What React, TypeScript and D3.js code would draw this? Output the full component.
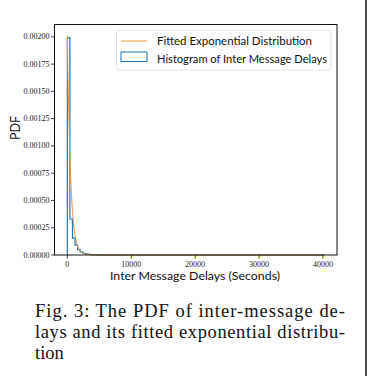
import React from 'react';
import * as d3 from 'd3';

// histogram (density) of inter message delays, bins of 402 s from 0 to 40200
const binWidth = 402;
const histDensity = [0.00199, 0.00033, 0.000155, 0.00009, 0.00005, 0.000028, 0.000016, 0.00001, 0.000006, 0.000004, 0.000003, 0.000002, 0.0000015, 0.000001];
const histEnd = 40200;

// fitted exponential curve
const fitX = [0, 200, 400, 600, 800, 1000, 1200, 1500, 1800, 2200, 2600, 3000, 4000, 5000, 40200];
const fitY = [0.00201, 0.001345, 0.0009, 0.000602, 0.000403, 0.000269, 0.00018, 0.0000986, 0.0000539, 0.0000241, 0.0000108, 0.0000048, 0.0000006, 0.0000001, 0];

const xTicks = [0, 10000, 20000, 30000, 40000];
const yTicks = [0, 0.00025, 0.0005, 0.00075, 0.001, 0.00125, 0.0015, 0.00175, 0.002];

const legendLabels = ['Fitted Exponential Distribution', 'Histogram of Inter Message Delays'];
const captionLines = ['Fig. 3: The PDF of inter-message de-', 'lays and its fitted exponential distribu-', 'tion'];

const W = 368, H = 376;
const left = 54.5, right = 337, top = 24.5, bottom = 255;
const blue = '#1f77b4';
const orange = '#ec9b3e';

export default function App() {
  const x = d3.scaleLinear().domain([-2010, 42210]).range([left, right]);
  const y = d3.scaleLinear().domain([0, 0.002113]).range([bottom, top]);

  // step outline like matplotlib histtype='step'
  const stepPts: [number, number][] = [[0, 0]];
  histDensity.forEach((d, i) => {
    stepPts.push([i * binWidth, d]);
    stepPts.push([(i + 1) * binWidth, d]);
  });
  stepPts.push([histDensity.length * binWidth, 0]);
  stepPts.push([histEnd, 0]);
  const stepLine = d3.line<[number, number]>().x(d => x(d[0])).y(d => y(d[1]));

  const fitLine = d3.line<number>().x((d, i) => x(fitX[i])).y(d => y(d));

  const serif = 'Liberation Serif, Times New Roman, serif';
  const sans = 'Lato, Liberation Sans, sans-serif';

  return (
    <svg width={W} height={H} style={{ position: 'absolute', left: 0, top: 0, background: '#fff' }}>
      <rect x={0} y={0} width={W} height={H} fill="#fff" />
      <path d={stepLine(stepPts) || ''} fill="none" stroke={blue} strokeWidth={1.2} />
      <path d={fitLine(fitY) || ''} fill="none" stroke={orange} strokeWidth={1} />

      {/* frame */}
      <rect x={left} y={top} width={right - left} height={bottom - top} fill="none" stroke="#111" strokeWidth={1} />

      {yTicks.map(t => (
        <g key={t} transform={`translate(${left},${y(t)})`}>
          <line x1={-3.5} x2={0} stroke="#111" strokeWidth={0.8} />
          <text x={-5} dy="0.32em" textAnchor="end" fontFamily={serif} fontSize={8} fill="#222">{t.toFixed(5)}</text>
        </g>
      ))}
      {xTicks.map(t => (
        <g key={t} transform={`translate(${x(t)},${bottom})`}>
          <line y1={0} y2={3.5} stroke="#111" strokeWidth={0.8} />
          <text y={11.5} textAnchor="middle" fontFamily={serif} fontSize={8} fill="#222">{t}</text>
        </g>
      ))}

      <text x={195} y={280} textAnchor="middle" fontFamily={sans} fontSize={12} textLength={170} lengthAdjust="spacingAndGlyphs" fill="#111">Inter Message Delays (Seconds)</text>
      <text transform="translate(20,128) rotate(-90)" textAnchor="middle" fontFamily={sans} fontSize={12.5} fill="#111">PDF</text>

      {/* legend */}
      <rect x={116.5} y={30} width={214.5} height={40} rx={2} fill="#fff" fillOpacity={0.8} stroke="#ddd" strokeWidth={0.8} />
      <line x1={121} x2={147} y1={41} y2={41} stroke={orange} strokeWidth={1} />
      <rect x={121} y={52} width={26} height={9.5} fill="none" stroke={blue} strokeWidth={1} />
      <text x={157} y={45} fontFamily={sans} fontSize={11} textLength={155} lengthAdjust="spacingAndGlyphs" fill="#111">{legendLabels[0]}</text>
      <text x={157} y={62.5} fontFamily={sans} fontSize={11} textLength={170} lengthAdjust="spacingAndGlyphs" fill="#111">{legendLabels[1]}</text>

      {/* caption */}
      {captionLines.map((c, i) => (
        <text key={i} x={35} y={317 + i * 21} fontFamily={serif} fontSize={18.5} fill="#111"
          {...(i < 2 ? { textLength: 310, lengthAdjust: 'spacing' } : {})}>{c}</text>
      ))}

      <line x1={366} x2={366} y1={0} y2={H} stroke="#111" strokeWidth={1.5} />
    </svg>
  );
}
